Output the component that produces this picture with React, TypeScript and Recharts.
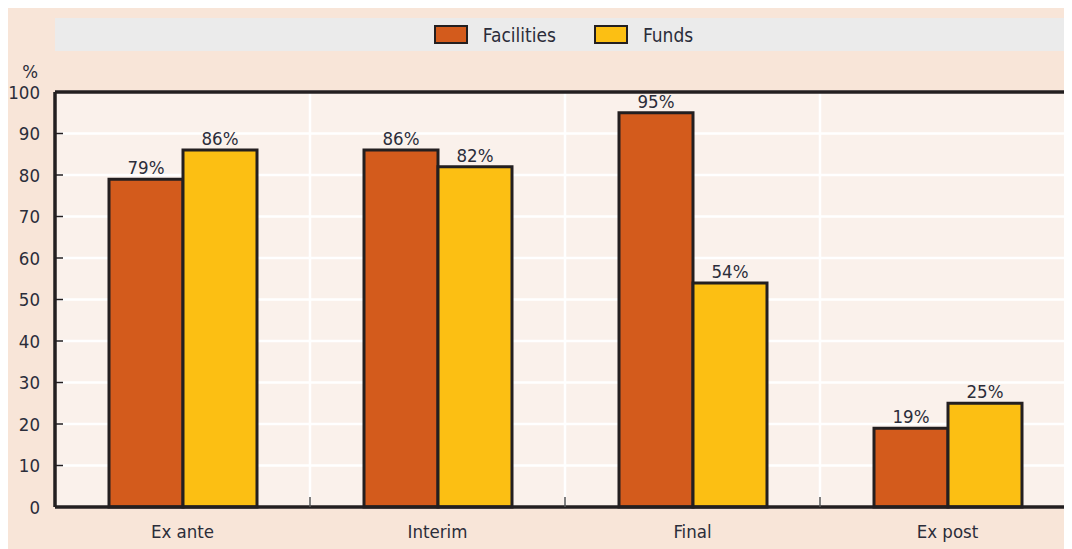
import React from 'react';
import {
  BarChart,
  Bar,
  XAxis,
  YAxis,
  CartesianGrid,
  ReferenceLine,
  LabelList,
} from 'recharts';

const categories = ['Ex ante', 'Interim', 'Final', 'Ex post'];
const facilities = [79, 86, 95, 19];
const funds = [86, 82, 54, 25];
const yTicks = [0, 10, 20, 30, 40, 50, 60, 70, 80, 90, 100];

const data = categories.map((c, i) => ({ name: c, Facilities: facilities[i], Funds: funds[i] }));

const W = 1064;
const H = 543;
const M = { top: 86, right: -3, left: 0, bottom: 0 };
const Y_W = 47;
const CAT_W = (W - Y_W - M.right) / categories.length;

const FONT = "'Liberation Sans Narrow', 'DejaVu Sans Condensed', 'Arial Narrow', sans-serif";
const FS = 18.5;
const INK = '#2b2d3a';
const LINE = '#231f20';
const ORANGE = '#d35b1c';
const YELLOW = '#fcbf13';

const YTick = (props: any) => {
  const { y, payload } = props;
  return (
    <g>
      <text x={32} y={y} dy='0.36em' textAnchor='end' fill={INK} fontSize={FS} fontFamily={FONT}>
        {payload.value}
      </text>
      {payload.value > 0 && payload.value < 100 && (
        <line x1={Y_W} x2={Y_W + 8} y1={y} y2={y} stroke={LINE} strokeWidth={1.5} />
      )}
    </g>
  );
};

const XTick = (props: any) => {
  const { x, y, payload, index } = props;
  return (
    <g>
      <text x={x} y={y + 24} dy='0.36em' textAnchor='middle' fill={INK} fontSize={FS} fontFamily={FONT}>
        {payload.value}
      </text>
      {index < categories.length - 1 && (
        <line x1={x + CAT_W / 2} x2={x + CAT_W / 2} y1={y - 10} y2={y} stroke='#555' strokeWidth={1.5} />
      )}
    </g>
  );
};

const Swatch = ({ color }: { color: string }) => (
  <span
    style={{
      display: 'inline-block',
      width: 30,
      height: 15,
      background: color,
      border: `2px solid ${LINE}`,
    }}
  />
);

const App = () => {
  return (
    <div style={{ position: 'relative', top: -2, width: W, height: H, background: '#f8e5d8' }}>
      <div
        style={{
          position: 'absolute',
          left: Y_W,
          top: 12,
          width: W - Y_W,
          height: 33,
          background: '#ebebeb',
          display: 'flex',
          alignItems: 'center',
          justifyContent: 'center',
          fontFamily: FONT,
          fontSize: 19,
          color: INK,
        }}
      >
        <Swatch color={ORANGE} />
        <span style={{ marginLeft: 15, marginRight: 38 }}>Facilities</span>
        <Swatch color={YELLOW} />
        <span style={{ marginLeft: 15 }}>Funds</span>
      </div>
      <BarChart width={W} height={H} data={data} margin={M} barCategoryGap={54} barGap={0}>
        <CartesianGrid
          fill='#faf1eb'
          fillOpacity={1}
          stroke='#ffffff'
          strokeWidth={2.5}
          verticalCoordinatesGenerator={({ offset }: any) =>
            [1, 2, 3].map((i) => offset.left + (i * offset.width) / 4)
          }
        />
        <XAxis
          dataKey='name'
          height={H - M.top - 415}
          tickLine={false}
          tickSize={0}
          tickMargin={0}
          axisLine={{ stroke: LINE, strokeWidth: 3.5 }}
          tick={<XTick />}
        />
        <YAxis
          width={Y_W}
          domain={[0, 100]}
          ticks={yTicks}
          interval={0}
          tickLine={false}
          axisLine={{ stroke: LINE, strokeWidth: 3.5 }}
          tick={<YTick />}
          label={{
            value: '%',
            content: ({ viewBox }: any) => (
              <text
                x={viewBox.x + 30}
                y={viewBox.y - 21}
                dy='0.36em'
                textAnchor='end'
                fill={INK}
                fontSize={FS}
                fontFamily={FONT}
              >
                %
              </text>
            ),
          }}
        />
        <Bar dataKey='Facilities' fill={ORANGE} stroke={LINE} strokeWidth={3} isAnimationActive={false}>
          <LabelList
            dataKey='Facilities'
            position='top'
            offset={5}
            formatter={(v: any) => `${v}%`}
            fill={INK}
            fontSize={FS}
            fontFamily={FONT}
          />
        </Bar>
        <Bar dataKey='Funds' fill={YELLOW} stroke={LINE} strokeWidth={3} isAnimationActive={false}>
          <LabelList
            dataKey='Funds'
            position='top'
            offset={5}
            formatter={(v: any) => `${v}%`}
            fill={INK}
            fontSize={FS}
            fontFamily={FONT}
          />
        </Bar>
        <ReferenceLine y={100} stroke={LINE} strokeWidth={3.5} />
      </BarChart>
    </div>
  );
};

export default App;
